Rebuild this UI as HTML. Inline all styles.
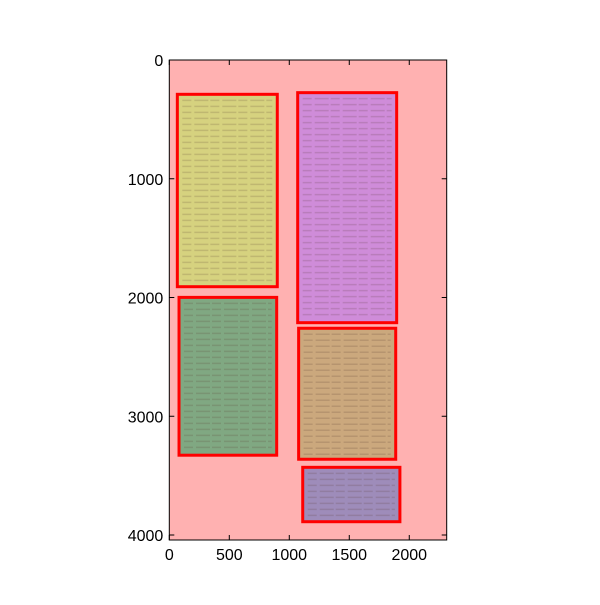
<!DOCTYPE html>
<html><head><meta charset="utf-8"><style>
body{margin:0;background:#fff;}
svg text{font-family:"Liberation Sans","DejaVu Sans",sans-serif;font-size:16px;fill:#000;}
</style></head><body>
<svg id="chart" width="600" height="600" xmlns="http://www.w3.org/2000/svg"></svg>
<script>
const xTicks=[0,500,1000,1500,2000];
const yTicks=[0,1000,2000,3000,4000];
const regionNames=['yellow-region','green-region','purple-region','brown-region','blue-region'];
const regionX0=[67,81,1070,1078,1112];
const regionX1=[900,895,1895,1887,1922];
const regionY0=[289,1999,275,2259,3430];
const regionY1=[1909,3328,2212,3362,3888];
const regionFill=['#d6d27f','#80a882','#cf8cd9','#cba87d','#9e8cba'];
const xMax=2312, yMax=4042;
const L=169.3,R=446.7,T=60,B=540;
const sx=v=>L+v*(R-L)/xMax;
const sy=v=>T+v*(B-T)/yMax;
const svg=document.getElementById('chart');
const NS='http://www.w3.org/2000/svg';
function mk(tag,attrs,name){const e=document.createElementNS(NS,tag);for(const k in attrs)e.setAttribute(k,attrs[k]);


svg.appendChild(e);return e;}
mk('rect',{x:L,y:T,width:R-L,height:B-T,fill:'#ffb1b1'},'image-background');
for(let i=0;i<regionNames.length;i++){
  const x=sx(regionX0[i]),y=sy(regionY0[i]),w=sx(regionX1[i])-x,h=sy(regionY1[i])-y;
  mk('rect',{x:x,y:y,width:w,height:h,fill:regionFill[i]},regionNames[i]+'-fill');
  for(let ly=y+6;ly<y+h-4;ly+=6){
    mk('line',{x1:x+5,x2:x+w-5,y1:ly,y2:ly,stroke:'rgba(90,60,50,0.18)','stroke-width':1.5,'stroke-dasharray':'9 3 14 2'},'text-line');
  }
  mk('rect',{x:x,y:y,width:w,height:h,fill:'none',stroke:'#ff0000','stroke-width':3},regionNames[i]+'-box');
}
mk('rect',{x:L,y:T,width:R-L,height:B-T,fill:'none',stroke:'#000','stroke-width':1},'axes-frame');
xTicks.forEach(v=>{const x=sx(v);
  mk('line',{x1:x,x2:x,y1:B,y2:B-5,stroke:'#000'},'x-tick');
  mk('line',{x1:x,x2:x,y1:T,y2:T+5,stroke:'#000'},'x-tick-top');
  const t=mk('text',{x:x,y:B+20,'text-anchor':'middle'},'x-tick-label');t.textContent=v;});
yTicks.forEach(v=>{const y=sy(v);
  mk('line',{x1:L,x2:L+5,y1:y,y2:y,stroke:'#000'},'y-tick');
  mk('line',{x1:R,x2:R-5,y1:y,y2:y,stroke:'#000'},'y-tick-right');
  const t=mk('text',{x:L-6,y:y+6,'text-anchor':'end'},'y-tick-label');t.textContent=v;});
</script>
</body></html>
